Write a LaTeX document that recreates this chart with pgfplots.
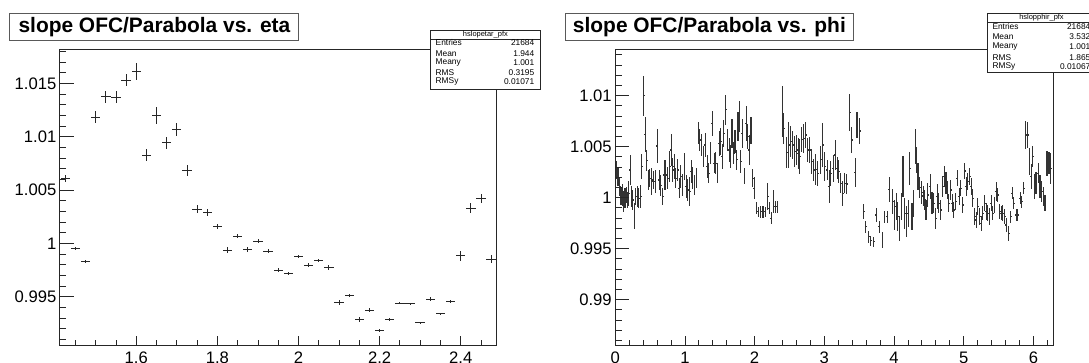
\documentclass[border=0pt]{standalone}
\usepackage{fontspec}
\setmainfont{Liberation Sans}
\usepackage{pgfplots}
\pgfplotsset{compat=1.18}
\usepackage{pgfplotstable}

\pgfplotstableread{
x y ey
1.425 1.00609 0.00030
1.450 0.99953 0.00015
1.475 0.99831 0.00015
1.500 1.01181 0.00056
1.525 1.01375 0.00056
1.550 1.01369 0.00056
1.575 1.01531 0.00053
1.600 1.01609 0.00078
1.625 1.00828 0.00056
1.650 1.01197 0.00078
1.675 1.00944 0.00056
1.700 1.01069 0.00062
1.725 1.00681 0.00053
1.750 1.00322 0.00037
1.775 1.00288 0.00031
1.800 1.00156 0.00025
1.825 0.99938 0.00025
1.850 1.00069 0.00022
1.875 0.99944 0.00022
1.900 1.00022 0.00022
1.925 0.99928 0.00022
1.950 0.99750 0.00019
1.975 0.99716 0.00016
2.000 0.99875 0.00016
2.025 0.99797 0.00016
2.050 0.99841 0.00016
2.075 0.99775 0.00022
2.100 0.99447 0.00025
2.125 0.99509 0.00012
2.150 0.99284 0.00025
2.175 0.99375 0.00016
2.200 0.99181 0.00012
2.225 0.99288 0.00016
2.250 0.99441 0.00012
2.275 0.99434 0.00010
2.300 0.99256 0.00010
2.325 0.99478 0.00016
2.350 0.99341 0.00010
2.375 0.99456 0.00016
2.400 0.99884 0.00047
2.425 1.00328 0.00047
2.450 1.00422 0.00041
2.475 0.99853 0.00038
}\etadata

\pgfplotstableread{
x y ey
0.012 1.00271 0.0009
0.031 1.00206 0.0009
0.047 1.00206 0.0009
0.063 1.00108 0.0009
0.083 1.00010 0.0008
0.102 1.00026 0.0011
0.121 0.99961 0.0010
0.140 0.99994 0.0010
0.159 1.00026 0.0008
0.178 0.99977 0.0008
0.197 1.00043 0.0012
0.216 1.00271 0.0015
0.235 1.00010 0.0010
0.254 0.99977 0.0010
0.275 0.99820 0.0013
0.297 1.00010 0.0008
0.321 1.00010 0.0010
0.340 0.99994 0.0010
0.364 1.00010 0.0011
0.383 1.00304 0.0012
0.407 1.00997 0.0020
0.431 1.00621 0.0017
0.455 1.00363 0.0010
0.479 1.00173 0.0010
0.497 1.00190 0.0009
0.522 1.00157 0.0013
0.546 1.00173 0.0009
0.574 1.00157 0.0011
0.603 1.00506 0.0017
0.631 1.00173 0.0010
0.655 1.00120 0.0010
0.679 1.00010 0.0008
0.703 1.00222 0.0015
0.727 1.00222 0.0015
0.756 1.00190 0.0011
0.779 1.00304 0.0015
0.803 1.00467 0.0016
0.823 1.00271 0.0012
0.846 1.00304 0.0012
0.870 1.00190 0.0010
0.894 1.00271 0.0011
0.918 1.00092 0.0010
0.942 1.00206 0.0011
0.965 1.00124 0.0011
0.994 1.00304 0.0013
1.018 1.00108 0.0011
1.042 1.00075 0.0011
1.066 1.00060 0.0014
1.090 1.00255 0.0011
1.109 1.00190 0.0011
1.137 1.00124 0.0010
1.166 1.00190 0.0010
1.195 1.00631 0.0011
1.214 1.00565 0.0011
1.238 1.00516 0.0011
1.266 1.00402 0.0010
1.290 1.00516 0.0012
1.319 1.00304 0.0011
1.342 1.00239 0.0010
1.366 1.00435 0.0011
1.390 1.00729 0.0012
1.419 1.00337 0.0010
1.443 1.00337 0.0011
1.467 1.00239 0.0010
1.490 1.00533 0.0012
1.514 1.00549 0.0013
1.533 1.00402 0.0012
1.557 1.00631 0.0013
1.586 1.00860 0.0015
1.610 1.00565 0.0011
1.634 1.00467 0.0012
1.653 1.00402 0.0011
1.676 1.00631 0.0014
1.700 1.00435 0.0011
1.719 1.00549 0.0011
1.743 1.00370 0.0010
1.762 1.00696 0.0014
1.781 1.00794 0.0015
1.800 1.00353 0.0011
1.824 1.00631 0.0014
1.853 1.00212 0.0008
1.881 1.00729 0.0017
1.900 1.00598 0.0012
1.924 1.00467 0.0015
1.948 1.00657 0.0013
1.972 1.00190 0.0009
1.996 1.00092 0.0011
2.025 0.99896 0.0006
2.053 0.99863 0.0005
2.087 0.99863 0.0006
2.120 0.99863 0.0006
2.154 0.99863 0.0005
2.188 1.00010 0.0013
2.211 0.99896 0.0006
2.240 0.99797 0.0006
2.269 0.99961 0.0011
2.297 0.99912 0.0006
2.326 0.99912 0.0006
2.398 1.00843 0.0025
2.421 1.00680 0.0015
2.460 1.00441 0.0015
2.488 1.00516 0.0023
2.517 1.00549 0.0015
2.545 1.00516 0.0014
2.574 1.00451 0.0015
2.603 1.00467 0.0015
2.626 1.00435 0.0015
2.650 1.00402 0.0017
2.674 1.00572 0.0012
2.707 1.00582 0.0014
2.736 1.00614 0.0013
2.765 1.00467 0.0012
2.793 1.00467 0.0013
2.822 1.00353 0.0012
2.851 1.00271 0.0011
2.880 1.00278 0.0015
2.908 1.00239 0.0012
2.950 1.00370 0.0014
2.980 1.00516 0.0022
3.008 1.00304 0.0014
3.041 1.00271 0.0010
3.070 1.00108 0.0016
3.094 1.00239 0.0012
3.127 1.00288 0.0013
3.156 1.00418 0.0015
3.184 1.00288 0.0011
3.208 1.00255 0.0011
3.237 1.00141 0.0010
3.265 1.00043 0.0012
3.294 1.00141 0.0010
3.323 1.00134 0.0010
3.366 1.00833 0.0018
3.394 1.00565 0.0013
3.442 1.00248 0.0014
3.470 1.00712 0.0013
3.509 1.00653 0.0013
3.566 0.99863 0.0007
3.595 0.99716 0.0006
3.639 0.99618 0.0006
3.668 0.99578 0.0005
3.711 0.99569 0.0005
3.743 0.99830 0.0007
3.786 0.99716 0.0006
3.834 0.99585 0.0008
3.863 0.99814 0.0006
3.901 0.99814 0.0006
3.930 1.00082 0.0012
3.983 0.99961 0.0012
4.006 0.99830 0.0015
4.030 0.99912 0.0013
4.054 0.99814 0.0014
4.078 0.99700 0.0012
4.106 0.99912 0.0013
4.130 1.00206 0.0020
4.154 0.99847 0.0015
4.178 0.99765 0.0015
4.202 0.99847 0.0013
4.226 1.00288 0.0016
4.259 0.99814 0.0013
4.278 0.99945 0.0013
4.307 1.00500 0.0017
4.321 1.00370 0.0013
4.345 1.00206 0.0013
4.369 1.00101 0.0010
4.398 1.00049 0.0011
4.421 1.00016 0.0010
4.441 0.99977 0.0010
4.460 0.99879 0.0010
4.484 1.00026 0.0012
4.521 1.00108 0.0012
4.545 0.99945 0.0011
4.569 0.99945 0.0010
4.597 0.99797 0.0010
4.621 1.00010 0.0012
4.645 0.99945 0.0010
4.669 0.99879 0.0010
4.698 1.00108 0.0010
4.722 1.00206 0.0010
4.746 1.00141 0.0011
4.764 1.00075 0.0009
4.788 0.99945 0.0009
4.812 1.00075 0.0010
4.836 0.99945 0.0009
4.860 0.99879 0.0008
4.884 0.99961 0.0008
4.908 1.00190 0.0008
4.936 1.00010 0.0008
4.960 1.00092 0.0008
4.989 0.99928 0.0008
5.012 1.00261 0.0008
5.036 1.00108 0.0009
5.060 1.00157 0.0008
5.084 1.00206 0.0008
5.108 1.00108 0.0008
5.132 0.99994 0.0009
5.156 0.99814 0.0008
5.180 0.99781 0.0008
5.204 0.99912 0.0008
5.227 0.99814 0.0008
5.251 0.99748 0.0007
5.275 0.99847 0.0007
5.299 0.99945 0.0008
5.323 0.99863 0.0008
5.347 0.99847 0.0008
5.370 0.99814 0.0008
5.394 0.99945 0.0008
5.418 0.99847 0.0007
5.442 0.99928 0.0008
5.466 1.00059 0.0009
5.490 1.00026 0.0007
5.514 0.99863 0.0007
5.538 0.99847 0.0007
5.562 0.99847 0.0008
5.586 0.99814 0.0007
5.609 0.99732 0.0007
5.647 0.99650 0.0007
5.676 0.99814 0.0006
5.695 1.00043 0.0006
5.717 0.99945 0.0006
5.752 0.99830 0.0006
5.776 0.99830 0.0006
5.809 0.99994 0.0006
5.833 0.99961 0.0006
5.862 1.00092 0.0006
5.891 1.00614 0.0014
5.919 1.00614 0.0013
5.943 1.00353 0.0013
5.967 1.00206 0.0012
5.991 1.00402 0.0010
6.014 1.00108 0.0012
6.038 1.00141 0.0011
6.071 1.00239 0.0010
6.095 1.00108 0.0011
6.119 1.00059 0.0010
6.143 1.00010 0.0009
6.167 0.99945 0.0008
6.196 1.00337 0.0012
6.224 1.00337 0.0011
6.248 1.00288 0.0015
}\phidata

\newcommand\tickfont{\fontsize{16.7}{20}\selectfont}
\pgfplotsset{
  rootbase/.style={
    scale only axis, clip=true,
    axis line style={black!85, line width=0.8bp},
    tick style={black!85, line width=0.8bp},
    tick align=inside,
    xtick pos=left, ytick pos=left,
    ticklabel style={font=\tickfont, text=black},
    xticklabel style={yshift=-3.5bp},
  },
  xpart/.style={rootbase, ytick=\empty, minor ytick={},
    major tick length=8.9bp, minor tick length=4.5bp},
  ypart/.style={rootbase, hide x axis,
    major tick length=13.9bp, minor tick length=6.5bp},
}

\begin{document}
\begin{tikzpicture}
\useasboundingbox (0,0) rectangle (1089bp,363bp);

% ---------- left panel ----------
\begin{axis}[xpart, at={(59.8bp,18bp)}, anchor=south west,
  width=436.5bp, height=295.7bp,
  xmin=1.4114, xmax=2.4878, ymin=0.99047, ymax=1.01819,
  xtick={1.6,1.8,2.0,2.2,2.4}, xticklabels={1.6,1.8,2,2.2,2.4},
  minor xtick={1.45,1.5,1.55,1.65,1.7,1.75,1.85,1.9,1.95,2.05,2.1,2.15,2.25,2.3,2.35,2.45}]
\addplot[draw=none, mark=none,
  error bars/.cd, x dir=both, x fixed=0.0115, y dir=both, y explicit,
  error mark=none, error bar style={draw=black!85, line width=0.85bp}]
  table[x=x, y=y, y error=ey] {\etadata};
\end{axis}
\begin{axis}[ypart, at={(59.8bp,18bp)}, anchor=south west,
  width=436.5bp, height=295.7bp,
  xmin=1.4114, xmax=2.4878, ymin=0.99047, ymax=1.01819,
  ytick={0.995,1.0,1.005,1.01,1.015}, yticklabels={0.995,1,1.005,1.01,1.015},
  minor ytick={0.991,0.992,0.993,0.994,0.996,0.997,0.998,0.999,1.001,1.002,1.003,1.004,1.006,1.007,1.008,1.009,1.011,1.012,1.013,1.014,1.016,1.017,1.018}]
\end{axis}

% ---------- right panel ----------
\begin{axis}[xpart, at={(615.2bp,18bp)}, anchor=south west,
  width=437.9bp, height=295.7bp,
  xmin=0, xmax=6.2832, ymin=0.98556, ymax=1.01454,
  xtick={0,1,2,3,4,5,6}, xticklabels={0,1,2,3,4,5,6},
  minor xtick={0.2,0.4,0.6,0.8,1.2,1.4,1.6,1.8,2.2,2.4,2.6,2.8,3.2,3.4,3.6,3.8,4.2,4.4,4.6,4.8,5.2,5.4,5.6,5.8,6.2}]
\addplot[draw=none, mark=none,
  error bars/.cd, x dir=both, x fixed=0.012, y dir=both, y explicit,
  error mark=none, error bar style={draw=black!80, line width=1.1bp}]
  table[x=x, y=y, y error=ey] {\phidata};
\end{axis}
\begin{axis}[ypart, at={(615.2bp,18bp)}, anchor=south west,
  width=437.9bp, height=295.7bp,
  xmin=0, xmax=6.2832, ymin=0.98556, ymax=1.01454,
  ytick={0.99,0.995,1.0,1.005,1.01}, yticklabels={0.99,0.995,1,1.005,1.01},
  minor ytick={0.986,0.987,0.988,0.989,0.991,0.992,0.993,0.994,0.996,0.997,0.998,0.999,1.001,1.002,1.003,1.004,1.006,1.007,1.008,1.009,1.011,1.012,1.013,1.014}]
\end{axis}

% ---------- titles ----------
\node[draw=black!65, line width=1bp, fill=white, minimum width=289bp, minimum height=26.7bp,
  inner sep=0pt, font=\bfseries\fontsize{21}{25}\selectfont] at (154.4bp,336.3bp) {slope OFC/Parabola vs. eta};
\node[draw=black!65, line width=1bp, fill=white, minimum width=288.4bp, minimum height=26.7bp,
  inner sep=0pt, font=\bfseries\fontsize{21}{25}\selectfont] at (709.4bp,336.3bp) {slope OFC/Parabola vs. phi};

% ---------- stats boxes ----------
\begin{scope}[font=\fontsize{8.4}{10}\selectfont]
% left
\draw[black!85, line width=0.7bp, fill=white] (430.3bp,273.7bp) rectangle (540.5bp,333bp);
\draw[black!85, line width=0.6bp] (430.3bp,324bp) -- (540.5bp,324bp);
\node[font=\fontsize{7.5}{8}\selectfont] at (485.4bp,328.6bp) {hslopetar\_pfx};
\foreach \lab/\val/\yy in {Entries/21684/320.2, Mean/1.944/309.7, Meany/1.001/300.2, RMS/0.3195/290.2, RMSy/0.01071/281.2}{
  \node[anchor=west, inner sep=0pt] at (435.5bp,\yy bp) {\lab};
  \node[anchor=east, inner sep=0pt] at (534.5bp,\yy bp) {\val};
}
% right
\draw[black!85, line width=0.7bp, fill=white] (987bp,290.3bp) rectangle (1096bp,349.7bp);
\draw[black!85, line width=0.6bp] (987bp,341bp) -- (1096bp,341bp);
\node[font=\fontsize{7.5}{8}\selectfont] at (1041.5bp,345.4bp) {hslopphir\_pfx};
\foreach \lab/\val/\yy in {Entries/21684/336.4, Mean/3.532/326.4, Meany/1.001/316.4, RMS/1.865/305.8, RMSy/0.01067/296.4}{
  \node[anchor=west, inner sep=0pt] at (992.3bp,\yy bp) {\lab};
  \node[anchor=east, inner sep=0pt] at (1090.5bp,\yy bp) {\val};
}
\end{scope}
\end{tikzpicture}
\end{document}
